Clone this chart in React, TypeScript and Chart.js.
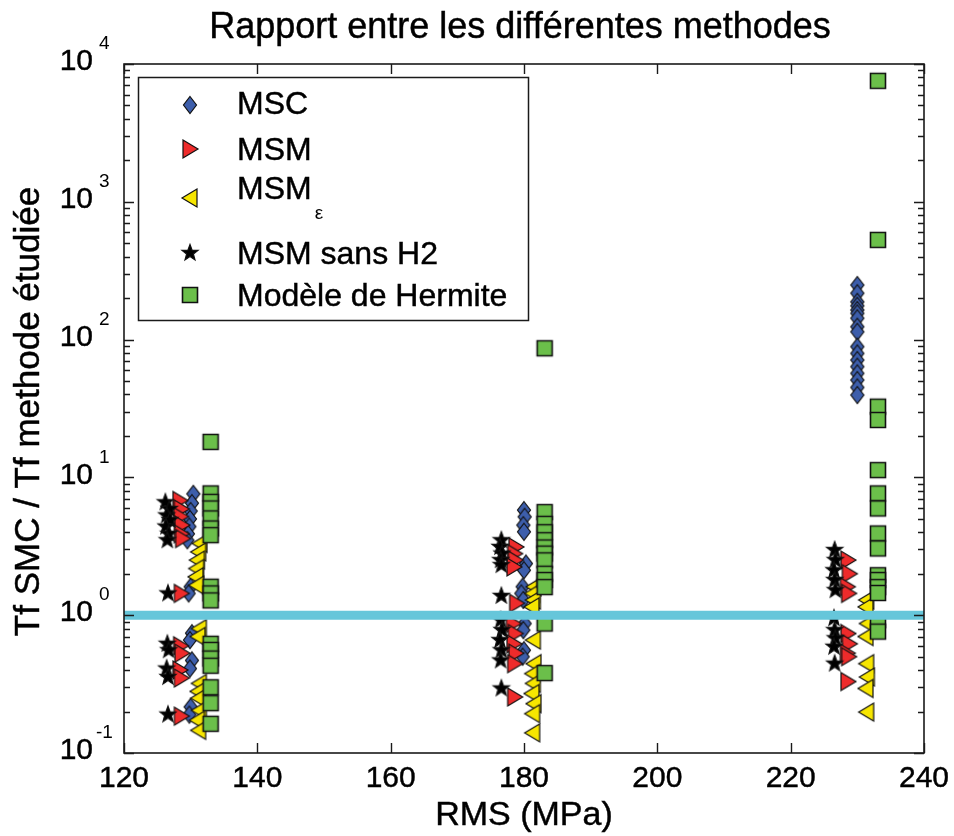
import React, { useEffect, useRef } from 'react';
import { Chart, registerables } from 'chart.js';

Chart.register(...registerables);

// ---------- axis definitions ----------
const X_MIN = 120;
const X_MAX = 240;
const X_TICKS = [120, 140, 160, 180, 200, 220, 240];
const Y_MIN = 0.1;
const Y_MAX = 10000;
const Y_DECADES = [-1, 0, 1, 2, 3, 4];

const TITLE = 'Rapport entre les différentes methodes';
const X_LABEL = 'RMS (MPa)';
const Y_LABEL = 'Tf SMC / Tf methode étudiée';
const REFERENCE_LEVEL = 1;

// ---------- series ----------
// MSC (blue diamonds)
const mscX = [
  130.4, 130.2, 130.0, 129.9, 129.8, 129.6, 129.5, 130.0, 129.7, 130.2, 129.9, 130.2, 129.9, 130.0, 129.8,
  180.0, 180.1, 179.9, 180.0, 180.3, 180.0, 179.8, 179.6, 179.9, 180.1, 179.9, 180.0, 179.8,
  230.0, 230.0, 230.0, 230.0, 230.0, 230.0, 230.0, 230.0, 230.0, 230.0, 230.0, 230.0, 230.0, 230.0, 230.0, 230.0, 230.0,
];
const mscY = [
  7.6, 6.5, 5.7, 5.0, 4.4, 3.9, 3.5, 1.61, 1.44, 0.74, 0.66, 0.47, 0.41, 0.216, 0.19,
  5.79, 5.18, 4.5, 4.03, 2.37, 2.12, 1.61, 1.44, 1.29, 0.87, 0.78, 0.557, 0.5,
  249, 217, 188, 176, 164, 155, 143, 124, 114, 88.9, 79.4, 71.1, 63.6, 56.9, 50.9, 45, 39.6,
];

// MSM (red right-pointing triangles)
const msmX = [
  128.4, 128.6, 128.5, 128.7, 128.6, 128.8, 128.6, 128.5, 128.7, 128.4, 128.6, 128.6,
  178.8, 178.6, 178.7, 178.5, 178.9, 178.4, 178.7, 178.5, 178.8, 178.6, 178.6,
  228.6, 228.8, 228.5, 228.7, 228.6, 228.8, 228.5, 228.7, 228.6,
];
const msmY = [
  6.8, 5.9, 5.2, 4.5, 3.9, 3.6, 1.44, 0.6, 0.53, 0.4, 0.35, 0.185,
  3.13, 2.8, 2.51, 2.24, 1.22, 0.87, 0.736, 0.62, 0.53, 0.445, 0.255,
  2.51, 2.0, 1.61, 1.44, 0.736, 0.62, 0.53, 0.5, 0.33,
];

// MSM epsilon (yellow left-pointing triangles)
const msmEpsX = [
  131.4, 131.2, 131.0, 130.9, 130.8, 130.9, 131.3, 131.1, 131.3, 131.1, 131.2, 131.3, 131.0, 131.2,
  181.5, 181.3, 181.4, 181.2, 181.4, 181.5, 181.3, 181.4, 181.2, 181.5, 181.3, 181.3,
  231.4, 231.3, 231.5, 231.3, 231.4, 231.5, 231.3, 231.4,
];
const msmEpsY = [
  3.32, 2.88, 2.51, 2.18, 1.9, 1.65, 0.8, 0.7, 0.32, 0.28, 0.25, 0.204, 0.173, 0.146,
  1.61, 1.44, 1.29, 1.15, 0.66, 0.445, 0.377, 0.32, 0.27, 0.228, 0.193, 0.14,
  1.29, 1.15, 0.87, 0.7, 0.445, 0.356, 0.294, 0.198,
];

// MSM sans H2 (black stars)
const sansH2X = [
  126.2, 126.8, 126.4, 126.9, 126.3, 126.7, 126.5, 126.6, 126.5, 126.7, 126.4, 126.6, 126.6,
  176.6, 176.4, 176.7, 176.5, 176.6, 176.6, 176.5, 176.7, 176.4, 176.6, 176.5, 176.6,
  226.6, 226.7, 226.5, 226.6, 226.7, 226.5, 226.6, 226.7, 226.5, 226.6,
];
const sansH2Y = [
  6.6, 5.9, 5.3, 4.9, 4.4, 3.9, 3.5, 1.44, 0.62, 0.557, 0.41, 0.356, 0.19,
  3.5, 3.13, 2.8, 2.51, 2.31, 1.38, 0.92, 0.78, 0.66, 0.557, 0.47, 0.294,
  2.97, 2.51, 2.12, 1.8, 1.52, 0.95, 0.78, 0.68, 0.59, 0.445,
];

// Modele de Hermite (green squares)
const hermiteX = [
  133.0, 133.0, 133.0, 133.0, 133.0, 133.0, 133.0, 133.0, 133.0, 133.0, 133.0, 133.0, 133.0, 133.0, 133.0, 133.0, 133.0,
  183.1, 183.1, 183.1, 183.1, 183.1, 183.1, 183.1, 183.1, 183.1, 183.1, 183.1, 183.1, 183.1,
  233.1, 233.1, 233.1, 233.1, 233.1, 233.1, 233.1, 233.1, 233.1, 233.1, 233.1, 233.1, 233.1, 233.1, 233.1,
];
const hermiteY = [
  18.1, 7.65, 6.65, 5.95, 5.04, 4.26, 3.81, 1.61, 1.44, 1.28, 0.62, 0.56, 0.485, 0.43, 0.3, 0.23, 0.163,
  86.5, 5.6, 4.6, 4.0, 3.5, 3.1, 2.8, 2.5, 2.0, 1.8, 1.6, 0.87, 0.38,
  7550, 529, 32.6, 26.1, 11.3, 7.65, 5.95, 3.92, 3.05, 1.95, 1.8, 1.6, 1.45, 0.92, 0.76,
];

const FONT = '"Liberation Sans", Arial, Helvetica, sans-serif';

type MarkerKind = 'diamond' | 'tri-right' | 'tri-left' | 'star' | 'square';

function drawMarkerPath(ctx: CanvasRenderingContext2D, kind: MarkerKind, cx: number, cy: number) {
  ctx.beginPath();
  if (kind === 'diamond') {
    ctx.moveTo(cx, cy - 8.5);
    ctx.lineTo(cx + 6.5, cy);
    ctx.lineTo(cx, cy + 8.5);
    ctx.lineTo(cx - 6.5, cy);
    ctx.closePath();
  } else if (kind === 'tri-right') {
    ctx.moveTo(cx - 7, cy - 9);
    ctx.lineTo(cx + 8, cy);
    ctx.lineTo(cx - 7, cy + 9);
    ctx.closePath();
  } else if (kind === 'tri-left') {
    ctx.moveTo(cx + 7, cy - 9);
    ctx.lineTo(cx - 8, cy);
    ctx.lineTo(cx + 7, cy + 9);
    ctx.closePath();
  } else if (kind === 'star') {
    const ro = 8.5, ri = 3.6;
    for (let i = 0; i < 10; i++) {
      const r = i % 2 === 0 ? ro : ri;
      const a = -Math.PI / 2 + (i * Math.PI) / 5;
      const px = cx + r * Math.cos(a);
      const py = cy + r * Math.sin(a);
      if (i === 0) ctx.moveTo(px, py);
      else ctx.lineTo(px, py);
    }
    ctx.closePath();
  } else {
    ctx.rect(cx - 7.5, cy - 7.5, 15, 15);
  }
}

const MARKER_FILL: Record<MarkerKind, string> = {
  diamond: '#3d5eab',
  'tri-right': '#ee2b2b',
  'tri-left': '#f7e600',
  star: '#000000',
  square: '#6bbf4a',
};

function drawMarker(ctx: CanvasRenderingContext2D, kind: MarkerKind, cx: number, cy: number) {
  drawMarkerPath(ctx, kind, cx, cy);
  ctx.fillStyle = MARKER_FILL[kind];
  ctx.fill();
  ctx.lineWidth = kind === 'square' ? 1.6 : 1.2;
  ctx.strokeStyle = '#111111';
  ctx.lineJoin = 'miter';
  ctx.stroke();
}

function makeMarkerCanvas(kind: MarkerKind): HTMLCanvasElement {
  const c = document.createElement('canvas');
  c.width = 22;
  c.height = 22;
  const ctx = c.getContext('2d')!;
  drawMarker(ctx, kind, 11, 11);
  return c;
}

function toPoints(xs: number[], ys: number[]) {
  return xs.map((x, i) => ({ x, y: ys[i] }));
}

function heavyText(ctx: CanvasRenderingContext2D, text: string, x: number, y: number) {
  ctx.fillText(text, x, y);
  ctx.lineWidth = 0.45;
  ctx.strokeStyle = '#000000';
  ctx.strokeText(text, x, y);
}

const LEGEND_ITEMS: { kind: MarkerKind; label: string; sub?: string; textY: number; markerY: number }[] = [
  { kind: 'diamond', label: 'MSC', textY: 105, markerY: 105 },
  { kind: 'tri-right', label: 'MSM', textY: 151, markerY: 149 },
  { kind: 'tri-left', label: 'MSM', sub: 'ε', textY: 190, markerY: 198 },
  { kind: 'star', label: 'MSM sans H2', textY: 255, markerY: 253 },
  { kind: 'square', label: 'Modèle de Hermite', textY: 297, markerY: 295 },
];

const matlabAxes = {
  id: 'matlabAxes',
  afterDatasetsDraw(chart: any) {
    const { ctx, chartArea: a, scales } = chart;
    const xs = scales.x;
    const ys = scales.y;
    ctx.save();
    ctx.strokeStyle = '#1a1a1a';
    ctx.lineWidth = 1.6;
    ctx.strokeRect(a.left, a.top, a.right - a.left, a.bottom - a.top);
    ctx.beginPath();
    for (const v of X_TICKS) {
      const px = Math.round(xs.getPixelForValue(v)) + 0.5;
      ctx.moveTo(px, a.bottom);
      ctx.lineTo(px, a.bottom - 10);
      ctx.moveTo(px, a.top);
      ctx.lineTo(px, a.top + 10);
    }
    for (const d of Y_DECADES) {
      const py = Math.round(ys.getPixelForValue(Math.pow(10, d))) + 0.5;
      ctx.moveTo(a.left, py);
      ctx.lineTo(a.left + 10, py);
      ctx.moveTo(a.right, py);
      ctx.lineTo(a.right - 10, py);
      if (d < 4) {
        for (let m = 2; m <= 9; m++) {
          const pm = Math.round(ys.getPixelForValue(m * Math.pow(10, d))) + 0.5;
          ctx.moveTo(a.left, pm);
          ctx.lineTo(a.left + 6, pm);
          ctx.moveTo(a.right, pm);
          ctx.lineTo(a.right - 6, pm);
        }
      }
    }
    ctx.lineWidth = 1.4;
    ctx.stroke();

    // x tick labels
    ctx.fillStyle = '#000000';
    ctx.font = `30px ${FONT}`;
    ctx.textAlign = 'center';
    ctx.textBaseline = 'middle';
    for (const v of X_TICKS) {
      heavyText(ctx, String(v), xs.getPixelForValue(v), 779);
    }
    // y tick labels 10^d
    for (const d of Y_DECADES) {
      const py = ys.getPixelForValue(Math.pow(10, d));
      ctx.font = `30px ${FONT}`;
      ctx.textAlign = 'right';
      heavyText(ctx, '10', 93, py - 2);
      ctx.font = `19px ${FONT}`;
      ctx.textAlign = 'left';
      ctx.fillText(String(d), d < 0 ? 96 : 99, py - 20);
    }
    ctx.restore();
  },
  afterDraw(chart: any) {
    const { ctx, chartArea: a } = chart;
    ctx.save();
    // title
    ctx.fillStyle = '#000000';
    ctx.textBaseline = 'middle';
    ctx.textAlign = 'center';
    ctx.font = `36px ${FONT}`;
    heavyText(ctx, TITLE, (a.left + a.right) / 2 - 4, 28);
    // x label
    ctx.font = `34px ${FONT}`;
    heavyText(ctx, X_LABEL, (a.left + a.right) / 2, 816);
    // y label
    ctx.save();
    ctx.translate(29, (a.top + a.bottom) / 2 + 3);
    ctx.rotate(-Math.PI / 2);
    ctx.font = `35px ${FONT}`;
    heavyText(ctx, Y_LABEL, 0, 0);
    ctx.restore();

    // legend
    const lx = 138, ly = 77, lw = 390, lh = 243;
    ctx.fillStyle = '#ffffff';
    ctx.fillRect(lx, ly, lw, lh);
    ctx.strokeStyle = '#1a1a1a';
    ctx.lineWidth = 1.5;
    ctx.strokeRect(lx + 0.5, ly + 0.5, lw, lh);
    for (const item of LEGEND_ITEMS) {
      drawMarker(ctx, item.kind, 190, item.markerY);
      ctx.fillStyle = '#000000';
      ctx.font = `32px ${FONT}`;
      ctx.textAlign = 'left';
      ctx.textBaseline = 'middle';
      heavyText(ctx, item.label, 237, item.textY);
      if (item.sub) {
        const w = ctx.measureText(item.label).width;
        ctx.font = `19px ${FONT}`;
        ctx.fillText(item.sub, 237 + w + 3, item.textY + 24);
      }
    }
    ctx.restore();
  },
};

export default function App() {
  const canvasRef = useRef<HTMLCanvasElement | null>(null);

  useEffect(() => {
    const canvas = canvasRef.current;
    if (!canvas) return;
    const mk = (k: MarkerKind) => makeMarkerCanvas(k);
    const chart = new Chart(canvas, {
      type: 'scatter',
      data: {
        datasets: [
          {
            type: 'line',
            label: 'ref',
            data: [
              { x: X_MIN, y: REFERENCE_LEVEL },
              { x: X_MAX, y: REFERENCE_LEVEL },
            ],
            borderColor: '#66c6da',
            borderWidth: 9,
            pointRadius: 0,
            showLine: true,
            order: 0,
          } as any,
          {
            label: 'Modèle de Hermite',
            data: toPoints(hermiteX, hermiteY),
            pointStyle: mk('square'),
            pointRadius: 9,
            order: 1,
          },
          {
            label: 'MSM sans H2',
            data: toPoints(sansH2X, sansH2Y),
            pointStyle: mk('star'),
            pointRadius: 9,
            order: 2,
          },
          {
            label: 'MSMε',
            data: toPoints(msmEpsX, msmEpsY),
            pointStyle: mk('tri-left'),
            pointRadius: 9,
            order: 3,
          },
          {
            label: 'MSM',
            data: toPoints(msmX, msmY),
            pointStyle: mk('tri-right'),
            pointRadius: 9,
            order: 4,
          },
          {
            label: 'MSC',
            data: toPoints(mscX, mscY),
            pointStyle: mk('diamond'),
            pointRadius: 9,
            order: 5,
          },
        ],
      },
      options: {
        animation: false,
        responsive: false,
        devicePixelRatio: 1,
        layout: { padding: { left: 0, right: 30, top: 64, bottom: 0 } },
        plugins: {
          legend: { display: false },
          title: { display: false },
          tooltip: { enabled: false },
        },
        scales: {
          x: {
            type: 'linear',
            min: X_MIN,
            max: X_MAX,
            grid: { display: false },
            border: { display: false },
            ticks: { display: false },
            afterFit: (s: any) => {
              s.height = 83;
            },
          },
          y: {
            type: 'logarithmic',
            min: Y_MIN,
            max: Y_MAX,
            grid: { display: false },
            border: { display: false },
            ticks: { display: false },
            afterFit: (s: any) => {
              s.width = 124;
            },
          },
        },
      },
      plugins: [matlabAxes],
    });
    return () => chart.destroy();
  }, []);

  return (
    <div style={{ position: 'absolute', left: 0, top: 0, width: 954, height: 836, background: '#ffffff' }}>
      <canvas ref={canvasRef} width={954} height={836} />
    </div>
  );
}
